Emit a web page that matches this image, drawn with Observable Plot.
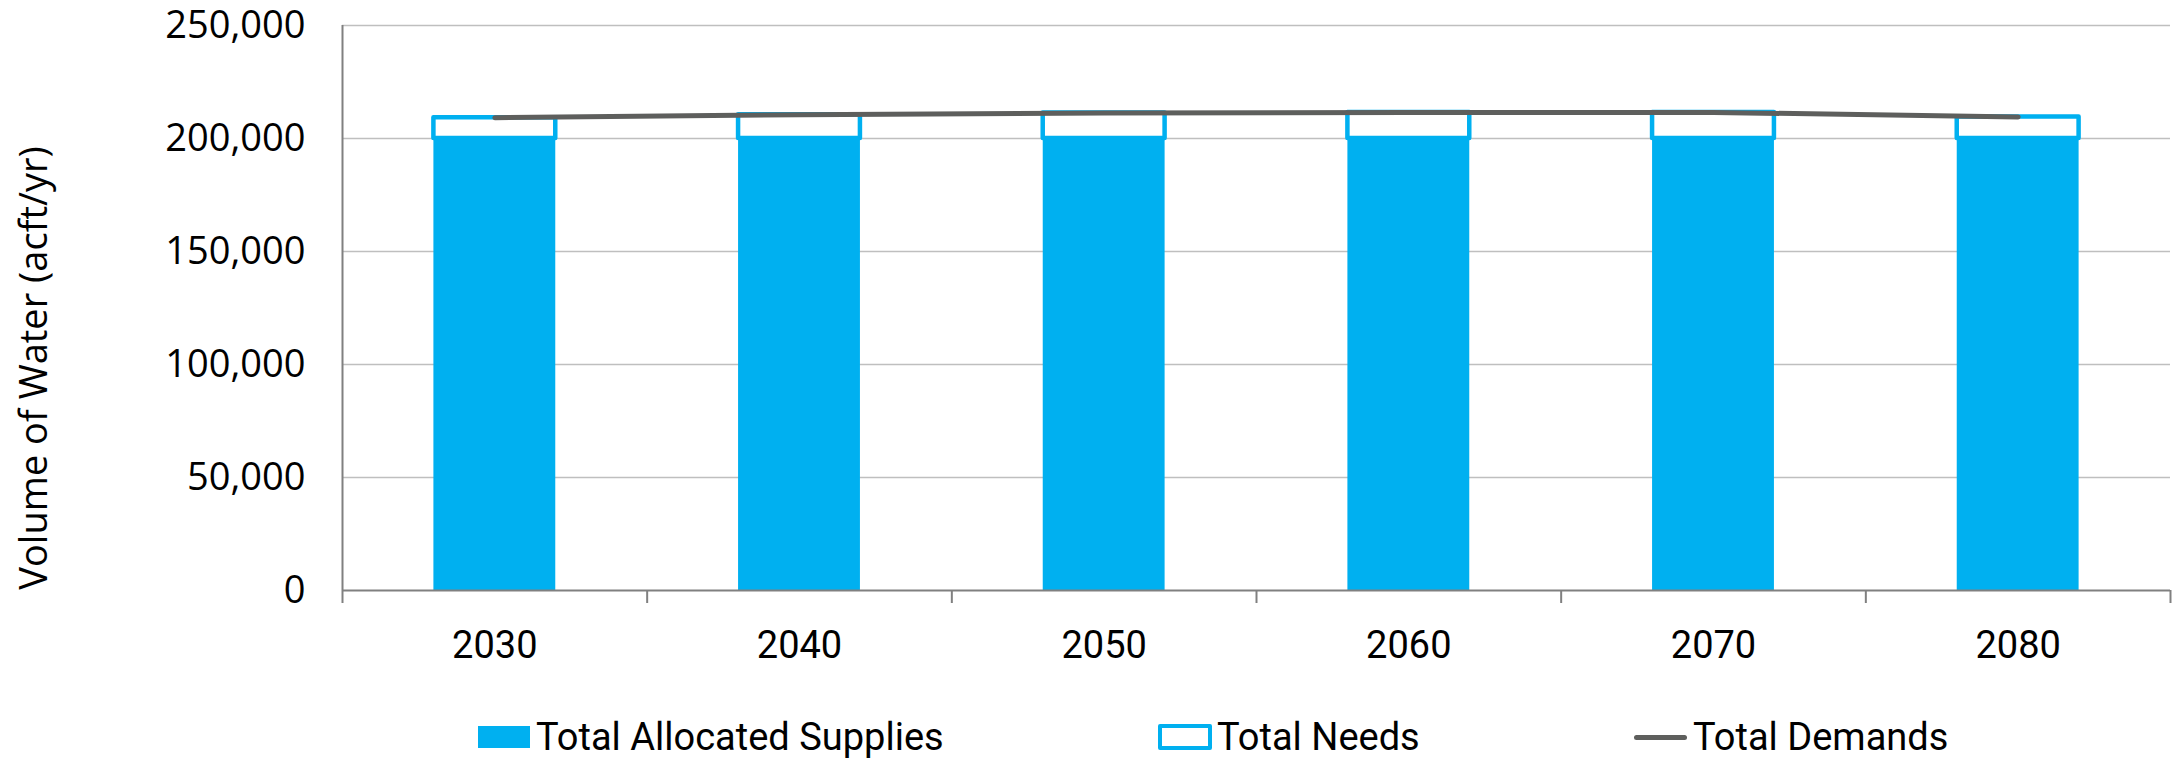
<!DOCTYPE html>
<html>
<head>
<meta charset="utf-8">
<script src="https://cdn.jsdelivr.net/npm/d3@7"></script>
<script src="https://cdn.jsdelivr.net/npm/@observablehq/plot@0.6"></script>
<style>
  html, body { margin: 0; padding: 0; background: #fff; overflow: hidden; }
  #chart { position: relative; width: 2172px; height: 758px; }
  #legend { position: absolute; left: 0; top: 703px; width: 2172px; height: 68px;
            font-family: Roboto, sans-serif; font-size: 38px; color: #000; }
  .item { position: absolute; top: 0; height: 68px; display: flex; align-items: center; white-space: nowrap; }
  .sw-fill { width: 52px; height: 22px; background: #00b0f0; margin-right: 6px; }
  .sw-box { width: 46px; height: 18px; border: 4px solid #00b0f0; border-radius: 2px; background: #fff; margin-right: 5px; }
  .sw-line { width: 53px; height: 5px; border-radius: 3px; background: #5e5f5d; margin-right: 6px; }
</style>
</head>
<body>
<div id="chart"><div id="legend"></div></div>
<script>
// Regional water plan totals by decade (acre-feet per year)
const years = [2030, 2040, 2050, 2060, 2070, 2080];
const supplies = [200000, 200000, 200000, 200000, 200000, 200000];
const needs = [9200, 10530, 11330, 11500, 11550, 9560];
const demands = [209200, 210530, 211330, 211500, 211550, 209560];
const yTicks = [0, 50000, 100000, 150000, 200000, 250000];
const seriesNames = ["Total Allocated Supplies", "Total Needs", "Total Demands"];
const yLabel = "Volume of Water (acft/yr)";

const rows = years.map((year, i) => ({year, supply: supplies[i], need: needs[i], demand: demands[i]}));

// Decade slots: boundaries halfway between years, bars take 40% of a slot
const step = years[1] - years[0];
const boundaries = [...years.map(y => y - step / 2), years[years.length - 1] + step / 2];
const halfBar = step * 0.2;

const axisColor = "#808080";
const blue = "#00b0f0";
const gray = "#5e5f5d";

const chart = Plot.plot({
  width: 2172,
  height: 690,
  marginLeft: 342,
  marginRight: 2,
  marginTop: 25,
  marginBottom: 100,
  style: {background: "white", overflow: "visible"},
  x: {type: "linear", domain: [boundaries[0], boundaries[boundaries.length - 1]]},
  y: {domain: [0, 250000]},
  marks: [
    Plot.gridY(yTicks.filter(v => v > 0), {stroke: "#bfbfbf", strokeOpacity: 1, strokeWidth: 1.5}),
    // allocated supplies
    Plot.rectY(rows, {x1: d => d.year - halfBar, x2: d => d.year + halfBar, y1: 0, y2: "supply", fill: blue}),
    // needs stacked on top of supplies, drawn as an outlined box
    Plot.rectY(rows, {x1: d => d.year - halfBar, x2: d => d.year + halfBar,
                      y1: "supply", y2: d => d.supply + d.need,
                      fill: "white", stroke: blue, strokeWidth: 4.5, strokeLinejoin: "round"}),
    Plot.ruleY([0], {stroke: axisColor, strokeWidth: 2}),
    Plot.ruleX([boundaries[0]], {stroke: axisColor, strokeWidth: 2}),
    Plot.axisX(boundaries, {tickSize: 13, tickFormat: () => "", stroke: axisColor, strokeWidth: 2, label: null}),
    Plot.axisX(years, {tickSize: 0, tickPadding: 41, tickFormat: d => String(d),
                       fontSize: 38, fontFamily: "Roboto", fill: "black", label: null}),
    // total demands
    Plot.line(rows, {x: "year", y: "demand", stroke: gray, strokeWidth: 5, strokeLinecap: "round", strokeLinejoin: "round"}),
    Plot.axisY(yTicks, {tickSize: 0, tickPadding: 37, tickFormat: d3.format(","),
                        fontSize: 38, fontFamily: "Open Sans", fill: "black", label: null}),
    Plot.text([yLabel], {frameAnchor: "left", text: d => d, rotate: -90, dx: -308, dy: 60,
                         fontSize: 38, fontFamily: "Open Sans", fill: "black",
                         textAnchor: "middle", lineAnchor: "middle"})
  ]
});

const holder = document.getElementById("chart");
holder.insertBefore(chart, holder.firstChild);

// legend below the plot
const legend = document.getElementById("legend");
const swatchClass = ["sw-fill", "sw-box", "sw-line"];
const itemLeft = [478, 1158, 1634];
seriesNames.forEach((name, i) => {
  const item = document.createElement("div");
  item.className = "item";
  item.style.left = itemLeft[i] + "px";
  const sw = document.createElement("span");
  sw.className = swatchClass[i];
  const label = document.createElement("span");
  label.textContent = name;
  item.appendChild(sw);
  item.appendChild(label);
  legend.appendChild(item);
});
</script>
</body>
</html>
